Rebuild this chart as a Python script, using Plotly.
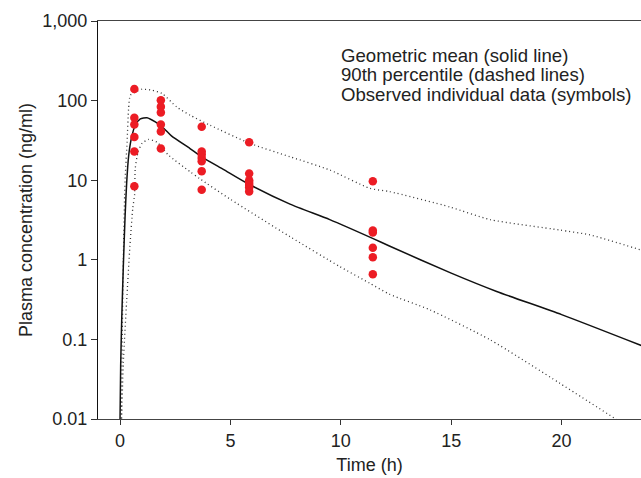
import plotly.graph_objects as go

# Observed individual data (time in h, concentration in ng/ml)
obs_time = [0.65]*6 + [1.85]*6 + [3.7]*7 + [5.85]*7 + [11.45]*6
obs_conc = [140, 61, 50, 35, 23, 8.4,
            101, 84, 71, 50, 41, 25,
            47, 23, 21, 19, 17.3, 13, 7.6,
            30, 12.1, 10.0, 9.3, 8.7, 8.1, 7.2,
            9.7, 2.33, 2.2, 1.42, 1.08, 0.66]

# Geometric mean (solid line)
mean_time = [0.0, 0.03, 0.08, 0.15, 0.23, 0.30, 0.39, 0.51, 0.69, 0.92, 1.22, 1.6,
             1.98, 2.33, 3.17, 3.7, 4.68, 5.84, 7.7, 9.5, 11.44, 12.2, 15.0, 17.06,
             20.0, 23.7]
mean_conc = [0.009, 0.046, 0.19, 0.82, 3.5, 9.0, 20, 33, 49, 59, 61, 54,
             45, 36, 25, 19.7, 13.7, 8.9, 5.0, 3.2, 1.86, 1.49, 0.68, 0.40,
             0.205, 0.082]

# Upper 90th percentile (dotted)
upper_time = [0.05, 0.1, 0.15, 0.21, 0.24, 0.32, 0.39, 0.47, 0.77, 1.0, 1.45, 1.9,
              2.57, 3.17, 4.08, 5.89, 7.7, 9.51, 11.32, 12.2, 14.95, 16.76, 19.9,
              21.3, 23.7]
upper_conc = [0.009, 0.1, 1.0, 6.5, 11.5, 30, 79, 117, 131, 139, 135, 123,
              83, 65.6, 49, 29, 19.7, 13.4, 7.9, 7.2, 4.6, 3.2, 2.37,
              2.05, 1.3]

# Lower 90th percentile (dotted)
lower_time = [0.07, 0.15, 0.3, 0.45, 0.58, 0.66, 0.69, 0.82, 1.0, 1.3, 1.68, 2.2,
              3.17, 3.6, 4.98, 7.7, 9.96, 11.3, 12.2, 14.04, 16.76, 19.93, 22.5]
lower_conc = [0.009, 0.05, 0.3, 1.5, 4.5, 6.5, 14, 22.7, 29, 32.5, 30, 20.6,
              12.8, 10.5, 5.8, 1.95, 0.82, 0.51, 0.37, 0.235, 0.099, 0.028, 0.0098]

y_tickvals = [0.01, 0.1, 1, 10, 100, 1000]
y_ticktext = ["0.01", "0.1", "1", "10", "100", "1,000"]
x_tickvals = [0, 5, 10, 15, 20]

legend_lines = ["Geometric mean (solid line)",
                "90th percentile (dashed lines)",
                "Observed individual data (symbols)"]

FONT = "Liberation Sans, Arial, Helvetica, sans-serif"
W, H = 641, 478
L, R, T, B = 98, 641, 21, 419

fig = go.Figure()
dot_style = dict(color="#333333", width=1.3, dash="1px,3px")
fig.add_trace(go.Scatter(x=upper_time, y=upper_conc, mode="lines",
                         line=dict(shape="spline", smoothing=0.6, **dot_style),
                         showlegend=False, hoverinfo="skip"))
fig.add_trace(go.Scatter(x=lower_time, y=lower_conc, mode="lines",
                         line=dict(shape="spline", smoothing=0.6, **dot_style),
                         showlegend=False, hoverinfo="skip"))
fig.add_trace(go.Scatter(x=mean_time, y=mean_conc, mode="lines",
                         line=dict(color="#111111", width=1.5, shape="spline", smoothing=0.6),
                         showlegend=False))
fig.add_trace(go.Scatter(x=obs_time, y=obs_conc, mode="markers",
                         marker=dict(color="#ec1c24", size=8.5, line=dict(width=0)),
                         showlegend=False))

centers = [55, 74.8, 94.6]
for txt, cy in zip(legend_lines, centers):
    fig.add_annotation(text=txt, xref="paper", yref="paper",
                       x=(339 - L) / (R - L), y=(B - cy) / (B - T),
                       xanchor="left", yanchor="middle", showarrow=False,
                       font=dict(family=FONT, size=18.6, color="#222222"))

fig.update_layout(
    width=W, height=H,
    margin=dict(l=L, r=W - R, t=T, b=H - B, pad=0),
    plot_bgcolor="white", paper_bgcolor="white",
    font=dict(family=FONT, size=18, color="#222222"),
    xaxis=dict(range=[(L - 120) / 22.08, (R - 120) / 22.08], automargin=False,
               tickvals=x_tickvals, ticks="outside", ticklen=5, tickwidth=1,
               tickcolor="#333", showline=True, linecolor="#444", linewidth=1.2,
               mirror=True, showgrid=False, zeroline=False,
               title=dict(text="Time (h)", standoff=8, font=dict(size=18)),
               tickfont=dict(size=18)),
    yaxis=dict(type="log", range=[-2, 3], tickvals=y_tickvals, ticktext=y_ticktext,
               automargin=False,
               ticks="outside", ticklen=6, tickwidth=1, tickcolor="#333",
               showline=True, linecolor="#111", linewidth=1.2,
               showgrid=False, zeroline=False,
               title=dict(text="Plasma concentration (ng/ml)", standoff=4,
                          font=dict(size=18)),
               tickfont=dict(size=18)),
)

fig.write_html("out.html", config={"displayModeBar": False},
               post_script="document.body.style.margin='0';document.body.style.overflow='hidden';")
